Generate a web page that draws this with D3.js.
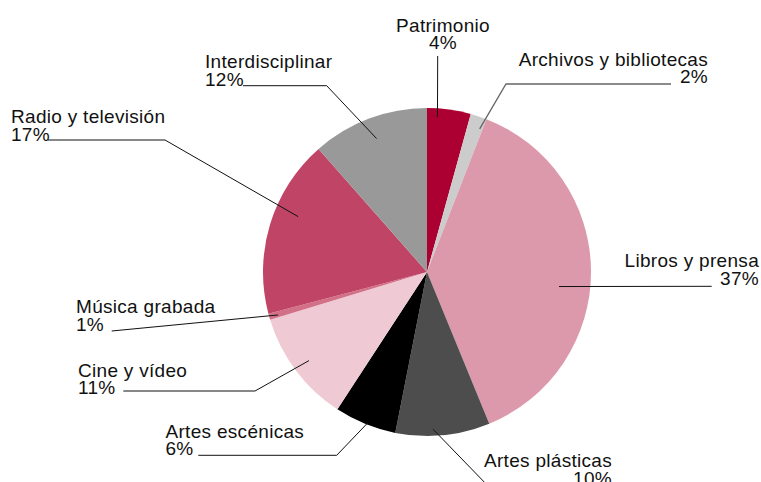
<!DOCTYPE html>
<html>
<head>
<meta charset="utf-8">
<script src="https://cdn.jsdelivr.net/npm/d3@7"></script>
<style>
  body { margin: 0; background: #fff; }
  text { font-family: "Liberation Sans", Arial, sans-serif; font-size: 19px; letter-spacing: 0.3px; fill: #111; }
</style>
</head>
<body>
<div id="wrapper"></div>
<script>
/// Data ///
const categories = ["Patrimonio", "Archivos y bibliotecas", "Libros y prensa", "Artes plásticas",
  "Artes escénicas", "Cine y vídeo", "Música grabada", "Radio y televisión", "Interdisciplinar"];
const values = [4.3, 1.6, 37.9, 9.3, 6.1, 11.1, 0.6, 17.6, 11.5];
const pctLabels = ["4%", "2%", "37%", "10%", "6%", "11%", "1%", "17%", "12%"];
const colours = ["#ac0032", "#cccccc", "#dd99ac", "#4d4d4d", "#000000", "#efcad4", "#d27088", "#bf4466", "#999999"];

/// Dimensions ///
const width = 761;
const height = 482;
const cx = 427, cy = 272, radius = 164;

// where each leader line touches its slice: fraction along the slice angle, fraction of radius
const anchorT = [0.25, 0.82, 0.55, 0.60, 0.47, 0.50, 0.38, 0.60, 0.50];
const anchorR = [0.945, 0.93, 0.81, 0.96, 0.99, 0.90, 0.945, 0.855, 0.87];

// label placement (page coords): text x, first baseline, anchor, elbow point, line end
const labelLayout = [
  { x: 443, y: 31.5, anchor: "middle", elbow: null, end: [437.7, 56] },
  { x: 708, y: 65.5, anchor: "end", elbow: [506, 84], end: [671, 84] },
  { x: 759, y: 267, anchor: "end", elbow: null, end: [711.7, 286.3] },
  { x: 612, y: 467, anchor: "end", elbow: [490, 488], end: [560, 488] },
  { x: 165.5, y: 437.5, anchor: "start", elbow: [336.7, 455.3], end: [198.3, 455.3] },
  { x: 78, y: 376.5, anchor: "start", elbow: [255, 391], end: [123.3, 391] },
  { x: 76, y: 313, anchor: "start", elbow: null, end: [111.7, 331] },
  { x: 11, y: 123, anchor: "start", elbow: [165, 140], end: [48, 140] },
  { x: 205, y: 68, anchor: "start", elbow: [326.7, 85.7], end: [243, 85.7] }
];
const lineGap = 17.8;

/// Draw the svg ///
const svg = d3.select("#wrapper").append("svg")
  .attr("width", width)
  .attr("height", height);

const pie = d3.pie().sort(null).value(d => d.value);
const slices = pie(categories.map((c, i) => ({ name: c, value: values[i], i })));

const arc = d3.arc().innerRadius(0).outerRadius(radius);

const g = svg.append("g").attr("transform", `translate(${cx},${cy})`);

g.selectAll("path")
  .data(slices)
  .join("path")
    .attr("d", arc)
    .attr("fill", d => colours[d.data.i]);

// leader lines
const anchorPoint = d => {
  const i = d.data.i;
  const a = d.startAngle + (d.endAngle - d.startAngle) * anchorT[i];
  const r = radius * anchorR[i];
  return [cx + r * Math.sin(a), cy - r * Math.cos(a)];
};

svg.selectAll("polyline.leader")
  .data(slices)
  .join("polyline")
    .attr("class", "leader")
    .attr("fill", "none")
    .attr("stroke", d => d.data.i === 1 ? "#666" : "#111")
    .attr("stroke-width", d => d.data.i === 1 ? 1.3 : 1)
    .attr("points", d => {
      const L = labelLayout[d.data.i];
      const pts = [anchorPoint(d)];
      if (L.elbow) pts.push(L.elbow);
      pts.push(L.end);
      return pts.map(p => p.join(",")).join(" ");
    });

// labels
const labels = svg.selectAll("text.label")
  .data(slices)
  .join("text")
    .attr("class", "label")
    .attr("text-anchor", d => labelLayout[d.data.i].anchor);

labels.append("tspan")
  .attr("x", d => labelLayout[d.data.i].x)
  .attr("y", d => labelLayout[d.data.i].y)
  .text(d => d.data.name);

labels.append("tspan")
  .attr("x", d => labelLayout[d.data.i].x)
  .attr("y", d => labelLayout[d.data.i].y + lineGap)
  .text(d => pctLabels[d.data.i]);
</script>
</body>
</html>
